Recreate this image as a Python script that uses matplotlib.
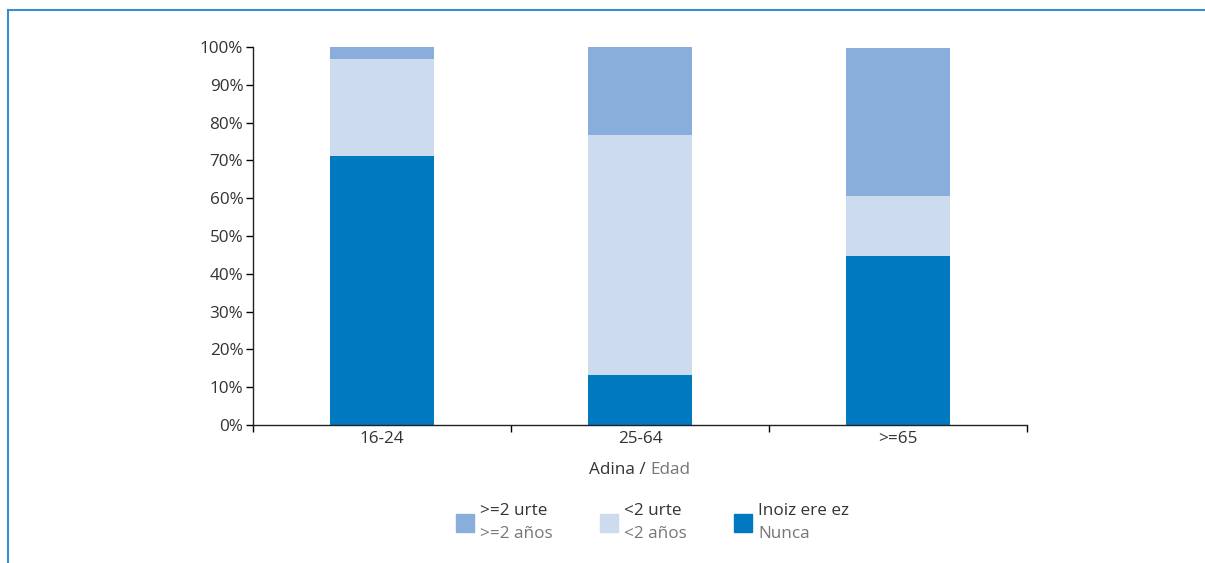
import matplotlib.pyplot as plt
from matplotlib.patches import Rectangle
from matplotlib.lines import Line2D
import numpy as np

plt.rcParams['font.family'] = ['Open Sans', 'DejaVu Sans']

categories = ['16-24', '25-64', '>=65']
nunca = [71.2, 13.2, 44.7]
menos2 = [25.6, 63.5, 15.9]
mas2 = [3.2, 23.3, 39.1]

legend_eu = ['>=2 urte', '<2 urte', 'Inoiz ere ez']
legend_es = ['>=2 años', '<2 años', 'Nunca']

c_dark = '#0079C1'
c_light = '#CCDCEE'
c_mid = '#8AAEDC'
txt = '#333333'
grey = '#777777'
fs = 12.3

W, H = 1205, 563
fig = plt.figure(figsize=(W / 100, H / 100), dpi=100)
ax = fig.add_axes([253 / W, 1 - 425 / H, (1027 - 253) / W, (425 - 47) / H])

x = np.arange(len(categories))
bw = 0.40
ax.bar(x, nunca, bw, color=c_dark)
ax.bar(x, menos2, bw, bottom=nunca, color=c_light)
ax.bar(x, mas2, bw, bottom=np.array(nunca) + np.array(menos2), color=c_mid)

ax.set_xlim(-0.5, 2.5)
ax.set_ylim(0, 100)
ax.set_yticks(np.arange(0, 101, 10))
ax.set_yticklabels([f'{v}%' for v in range(0, 101, 10)])
ax.set_xticks(x)
ax.set_xticklabels(categories)
ax.set_xticks([-0.5, 0.5, 1.5, 2.5], minor=True)
ax.tick_params(axis='x', which='major', length=0, pad=4, labelsize=fs, labelcolor=txt)
ax.tick_params(axis='x', which='minor', length=5, width=1, direction='out')
ax.tick_params(axis='y', length=5, width=1, labelsize=fs, labelcolor=txt, pad=2)
for s in ['top', 'right']:
    ax.spines[s].set_visible(False)
for s in ['left', 'bottom']:
    ax.spines[s].set_linewidth(1)
    ax.spines[s].set_color('#222222')

# x label in two colours
fig.text(650 / W, 1 - 470 / H, 'Adina / ', ha='right', va='center', fontsize=fs, color=txt)
fig.text(650 / W, 1 - 470 / H, 'Edad', ha='left', va='center', fontsize=fs, color=grey)

# legend
colors = [c_mid, c_light, c_dark]
sq_x = [456, 600, 734]
for cx, col, eu, es in zip(sq_x, colors, legend_eu, legend_es):
    fig.patches.append(Rectangle((cx / W, 1 - 532 / H), 18 / W, 18 / H,
                                 transform=fig.transFigure, color=col))
    fig.text((cx + 24) / W, 1 - 511 / H, eu, ha='left', va='center', fontsize=fs, color=txt)
    fig.text((cx + 24) / W, 1 - 534 / H, es, ha='left', va='center', fontsize=fs, color=grey)

# frame
fig.add_artist(Line2D([8 / W, 1], [1 - 10 / H, 1 - 10 / H], transform=fig.transFigure,
                      color='#3A8DD0', lw=1.5))
fig.add_artist(Line2D([8 / W, 8 / W], [0, 1 - 10 / H], transform=fig.transFigure,
                      color='#3A8DD0', lw=1.5))

fig.savefig('out.png', dpi=100)
